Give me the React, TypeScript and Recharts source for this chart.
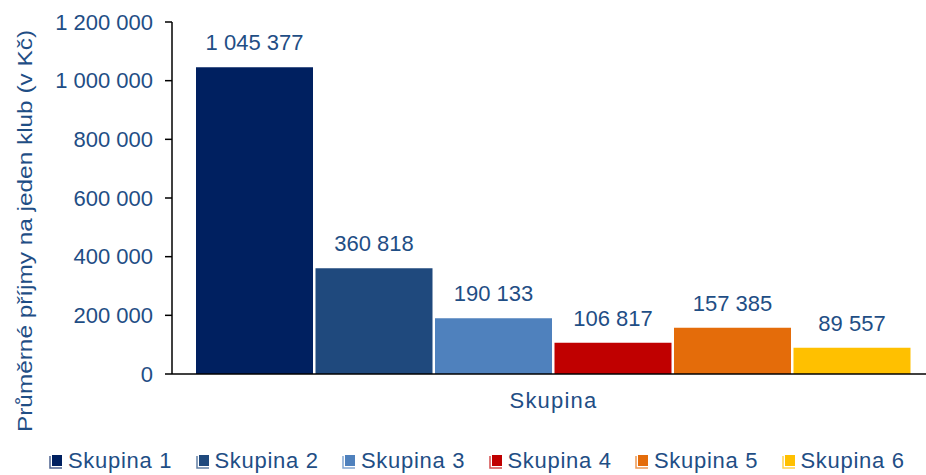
import { BarChart, Bar, XAxis, YAxis, Legend, LabelList } from 'recharts';

const categories = ['Skupina'];
const seriesNames = ['Skupina 1', 'Skupina 2', 'Skupina 3', 'Skupina 4', 'Skupina 5', 'Skupina 6'];
const seriesValues = [1045377, 360818, 190133, 106817, 157385, 89557];
const seriesColors = ['#002060', '#1F497D', '#4F81BD', '#C00000', '#E46C0A', '#FFC000'];
const yTicks = [0, 200000, 400000, 600000, 800000, 1000000, 1200000];

const TEXT = '#1F4E85';
const FONT = '"Liberation Sans", Arial, sans-serif';

const fmt = (v: number) => String(v).replace(/\B(?=(\d{3})+(?!\d))/g, ' ');

const data = categories.map((name) => {
    const row: any = { name };
    seriesValues.forEach((v, i) => {
        row[`s${i}`] = v;
    });
    return row;
});

const YTitle = (props: any) => {
    const { viewBox } = props;
    const x = 24;
    const y = viewBox.y + viewBox.height / 2 + 33;
    return (
        <text
            x={x}
            y={y}
            transform={`rotate(-90 ${x} ${y})`}
            textAnchor="middle"
            dominantBaseline="central"
            fill={TEXT}
            fontSize={21}
            fontFamily={FONT}
            textLength={402}
            lengthAdjust="spacingAndGlyphs"
        >
            Průměrné příjmy na jeden klub (v Kč)
        </text>
    );
};

const LegendContent = () => (
    <div style={{ height: 40, display: 'flex', paddingLeft: 49, paddingTop: 13, boxSizing: 'border-box' }}>
        {seriesNames.map((n, i) => (
            <div key={n} style={{ display: 'flex', alignItems: 'center', width: 146.5, height: 26 }}>
                <svg width={15} height={15} style={{ marginRight: 4 }}>
                    <polyline points="1,2 1,14 13,14" fill="none" stroke={seriesColors[i]} strokeWidth={1.5} opacity={0.7} />
                    <rect x={3} y={1} width={10} height={11} fill={seriesColors[i]} />
                </svg>
                <span style={{ fontFamily: FONT, fontSize: 22, color: TEXT, letterSpacing: 0.7, lineHeight: '26px' }}>{n}</span>
            </div>
        ))}
    </div>
);

export default function App() {
    return (
        <div style={{ position: 'absolute', left: 0, top: 0, width: 926, height: 475 }}>
            <BarChart
                width={926}
                height={475}
                data={data}
                margin={{ top: 22, right: -9, left: 0, bottom: 0 }}
                barSize={117}
                barGap={2.5}
            >
                <XAxis
                    dataKey="name"
                    tick={false}
                    tickLine={false}
                    axisLine={{ stroke: '#000', strokeWidth: 1.5 }}
                    height={61}
                    label={{
                        value: 'Skupina',
                        position: 'insideTop',
                        dy: 13,
                        fill: TEXT,
                        fontSize: 22,
                        fontFamily: FONT,
                        letterSpacing: 1.2,
                    }}
                />
                <YAxis
                    domain={[0, 1200000]}
                    ticks={yTicks}
                    interval={0}
                    width={172}
                    tickFormatter={fmt}
                    tick={{ fill: TEXT, fontSize: 22, fontFamily: FONT }}
                    tickSize={7}
                    tickMargin={12}
                    tickLine={{ stroke: '#000', strokeWidth: 1.5 }}
                    axisLine={{ stroke: '#000', strokeWidth: 1.5 }}
                    label={<YTitle />}
                />
                <Legend verticalAlign="bottom" height={40} content={<LegendContent />} />
                {seriesNames.map((n, i) => (
                    <Bar key={n} dataKey={`s${i}`} name={n} fill={seriesColors[i]} isAnimationActive={false}>
                        <LabelList
                            dataKey={`s${i}`}
                            position="top"
                            offset={17}
                            formatter={(v: any) => fmt(Number(v))}
                            fill={TEXT}
                            fontSize={22}
                            fontFamily={FONT}
                        />
                    </Bar>
                ))}
            </BarChart>
        </div>
    );
}
